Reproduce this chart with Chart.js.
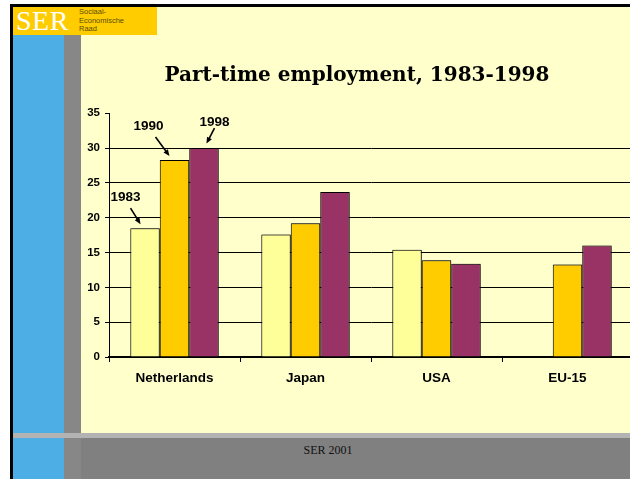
<!DOCTYPE html>
<html>
<head>
<meta charset="utf-8">
<script src="https://cdn.jsdelivr.net/npm/chart.js@4/dist/chart.umd.min.js"></script>
<style>
  html, body { margin: 0; padding: 0; background: #fff; overflow: hidden; }
  .slide { position: relative; width: 630px; height: 479px; overflow: hidden; }
  .slide div { position: absolute; }
  .line-top { left: 10px; top: 4px; width: 620px; height: 3px; background: #000; }
  .line-left { left: 10px; top: 4px; width: 3px; height: 475px; background: #000; }
  .cream { left: 13px; top: 7px; width: 617px; height: 426px; background: #ffffcc; }
  .logo { left: 13px; top: 7px; width: 144px; height: 28px; background: #ffcc00; }
  .logo .big { left: 3px; top: 0px; font: 28px 'Liberation Serif', serif; color: #fff; line-height: 28px; letter-spacing: 0.5px; }
  .logo .small { left: 66px; top: 1px; font: 7.5px 'Liberation Sans', sans-serif; color: #5c4d00; line-height: 8.6px; }
  .blue { left: 13px; top: 35px; width: 50.5px; height: 444px; background: #4daee6; }
  .grey { left: 63.5px; top: 35px; width: 17.5px; height: 444px; background: #878787; }
  .band { left: 13px; top: 433px; width: 617px; height: 5px; background: #b3b3b3; }
  .footer { left: 81px; top: 438px; width: 549px; height: 41px; background: #808080; }
  .footer span { position: absolute; left: 0; width: 494px; top: 5px; text-align: center; font: 12px 'Liberation Serif', serif; color: #111; }
  canvas { position: absolute; left: 0; top: 0; }
</style>
</head>
<body>
<div class="slide">
  <div class="cream"></div>
  <div class="logo">
    <div class="big">SER</div>
    <div class="small">Sociaal-<br>Economische<br>Raad</div>
  </div>
  <div class="blue"></div>
  <div class="grey"></div>
  <div class="band"></div>
  <div class="footer"><span>SER 2001</span></div>
  <div class="line-top"></div>
  <div class="line-left"></div>
  <canvas id="chart" width="633" height="479"></canvas>
</div>
<script>
// data
const countries = ['Netherlands', 'Japan', 'USA', 'EU-15'];
const years = ['1983', '1990', '1998'];
const share1983 = [18.5, 17.6, 15.4, null];
const share1990 = [28.3, 19.2, 13.9, 13.3];
const share1998 = [30.0, 23.7, 13.4, 16.0];
const yTicks = [0, 5, 10, 15, 20, 25, 30, 35];

const barColors = ['#ffff99', '#ffcc00', '#993366'];
const sans = "'Liberation Sans', Arial, sans-serif";

// label + arrow offsets relative to the Netherlands bar tops
const notes = [
  { text: years[0], tx: -19.5, ty: -31, x1: -14.5, y1: -20, x2: -4.5, y2: -4 },
  { text: years[1], tx: -26, ty: -34, x1: -19, y1: -23, x2: -5, y2: -4 },
  { text: years[2], tx: 10.5, ty: -26, x1: 10.5, y1: -20, x2: 2.5, y2: -4.5 }
];

function arrow(ctx, x1, y1, x2, y2) {
  const a = Math.atan2(y2 - y1, x2 - x1);
  const len = 7;
  ctx.beginPath();
  ctx.moveTo(x1, y1);
  ctx.lineTo(x2 - Math.cos(a) * 4, y2 - Math.sin(a) * 4);
  ctx.stroke();
  ctx.beginPath();
  ctx.moveTo(x2, y2);
  ctx.lineTo(x2 - len * Math.cos(a - 0.4), y2 - len * Math.sin(a - 0.4));
  ctx.lineTo(x2 - len * Math.cos(a + 0.4), y2 - len * Math.sin(a + 0.4));
  ctx.closePath();
  ctx.fill();
}

const slidePlugin = {
  id: 'slide',
  beforeDatasetsDraw(chart) {
    const ctx = chart.ctx;
    ctx.save();
    ctx.shadowColor = 'rgba(0,0,0,0.45)';
    ctx.shadowBlur = 2;
    ctx.shadowOffsetX = 1;
    ctx.shadowOffsetY = 0;
  },
  afterDatasetsDraw(chart) {
    const ctx = chart.ctx;
    ctx.restore();
    ctx.save();
    ctx.fillStyle = '#000';
    ctx.strokeStyle = '#000';
    ctx.lineWidth = 1.6;
    ctx.font = 'bold 13.5px ' + sans;
    ctx.textAlign = 'center';
    ctx.textBaseline = 'middle';
    notes.forEach((n, i) => {
      const bar = chart.getDatasetMeta(i).data[0];
      ctx.fillText(n.text, bar.x + n.tx, bar.y + n.ty);
      arrow(ctx, bar.x + n.x1, bar.y + n.y1, bar.x + n.x2, bar.y + n.y2);
    });
    ctx.restore();
  }
};

const data = {
  labels: countries,
  datasets: [share1983, share1990, share1998].map((vals, i) => ({
    label: years[i],
    data: vals,
    backgroundColor: barColors[i],
    borderColor: '#000',
    borderWidth: 1,
    borderSkipped: 'bottom',
    categoryPercentage: 0.675,
    barPercentage: 1
  }))
};

new Chart(document.getElementById('chart'), {
  type: 'bar',
  data: data,
  plugins: [slidePlugin],
  options: {
    responsive: false,
    animation: false,
    layout: { padding: { left: 81, right: 0, top: 64, bottom: 82 } },
    plugins: {
      legend: { display: false },
      tooltip: { enabled: false },
      title: {
        display: true,
        text: 'Part-time employment, 1983-1998',
        color: '#000',
        font: { family: "'DejaVu Serif', serif", weight: 'bold', size: 20, lineHeight: 1.2 },
        padding: { top: 0, bottom: 25.3 }
      }
    },
    scales: {
      x: {
        grid: { display: true, offset: true, drawOnChartArea: false, drawTicks: true, tickLength: 5, color: '#000' },
        border: { display: true, color: '#000', width: 2 },
        ticks: { color: '#000', padding: 8, font: { family: sans, weight: 'bold', size: 13.5 } },
        afterFit: s => { s.height = 40; }
      },
      y: {
        min: 0,
        max: 35,
        afterBuildTicks: s => { s.ticks = yTicks.map(v => ({ value: v })); },
        grid: {
          color: c => (c.tick && c.tick.value === 35 ? 'rgba(0,0,0,0)' : '#000'),
          tickColor: '#000',
          tickLength: 4,
          lineWidth: 1
        },
        border: { display: true, color: '#000', width: 1 },
        ticks: { color: '#000', padding: 5, font: { family: sans, weight: 'bold', size: 11.5 } },
        afterFit: s => { s.width = 28; }
      }
    }
  }
});
</script>
</body>
</html>
